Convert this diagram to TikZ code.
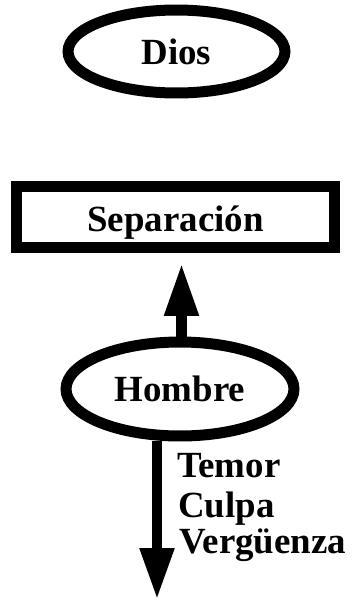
\documentclass[tikz,border=0pt]{standalone}
\usepackage{fontspec}
\setmainfont{Liberation Serif}
\usepackage{tikz}
\usetikzlibrary{arrows.meta, shapes.geometric, positioning}

\begin{document}
\begin{tikzpicture}[x=0.02cm, y=-0.02cm,
    font=\fontsize{21}{21}\selectfont\bfseries,
    oval/.style={ellipse, draw, line width=0.22cm, inner sep=0pt},
    caja/.style={rectangle, draw, line width=0.22cm, inner sep=0pt, text height=0.58cm, text depth=0pt},
    flecha/.style={line width=0.22cm, -{Triangle[length=1.06cm, width=0.64cm]}},
    rotulo/.style={anchor=base west, inner sep=0pt}]
                        \useasboundingbox (0, 0) rectangle (353, 600);
                        \node[oval, minimum width=4.34cm, minimum height=1.66cm] (dios) at (176.5, 51.5) {Dios};
                        \node[caja, minimum width=6.36cm, minimum height=1.22cm] (sep) at (175.5, 217) {Separación};
                        \node[oval, minimum width=4.56cm, minimum height=1.88cm] (hombre) at (180, 389) {Hombre};
                        \coordinate (abajo) at (157, 600);
                        \node[rotulo] (temor) at (177, 477) {Temor};
                        \node[rotulo] (culpa) at (178, 517) {Culpa};
                        \node[rotulo] (verg) at (179, 553) {Vergüenza};
                        \draw[flecha, shorten >=0.2cm] ([xshift=0.03cm]hombre.north) -- ([xshift=0.03cm]hombre.north |- sep.south);
                        \draw[flecha, -{Triangle[length=1.04cm, width=0.64cm]}] (hombre.south -| abajo) -- (abajo);
                    \end{tikzpicture}
\end{document}
